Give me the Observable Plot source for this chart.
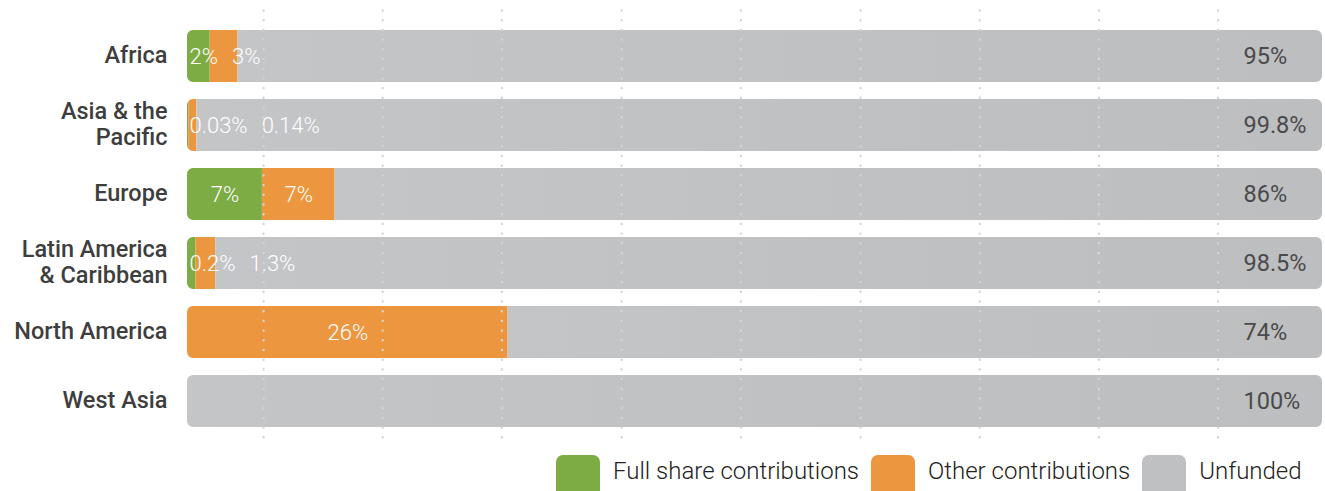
<!DOCTYPE html>
<html><head><meta charset="utf-8">
<script src="https://cdn.jsdelivr.net/npm/d3@7"></script>
<script src="https://cdn.jsdelivr.net/npm/@observablehq/plot@0.6"></script>
<style>
body{margin:0;background:#fff;font-family:Roboto,sans-serif;}
#chart{position:relative;width:1325px;height:491px;overflow:hidden;}
#chart svg{display:block;}
.legend{position:absolute;left:556px;top:455px;display:flex;align-items:flex-start;font-family:Roboto,sans-serif;font-weight:300;font-size:24px;color:#222;white-space:nowrap;}
.legend .sw{width:44px;height:44px;border-radius:7px;margin-right:13px;flex:none;}
.legend .lab{margin-right:12px;line-height:32px;}
</style></head>
<body><div id="chart"></div>
<script>
// ---- data ----
const regions = ["Africa", "Asia & the Pacific", "Europe", "Latin America & Caribbean", "North America", "West Asia"];
const regionLines = ["Africa", "Asia & the\nPacific", "Europe", "Latin America\n& Caribbean", "North America", "West Asia"];
const fullShare = [2.0, 0.13, 6.6, 0.75, 0, 0];
const otherContrib = [2.45, 0.7, 6.4, 1.75, 28.25, 0];
const unfunded = [95.55, 99.17, 87.0, 97.5, 71.75, 100];
const fullLabels = ["2%", "0.03%", "7%", "0.2%", "", ""];
const otherLabels = ["3%", "0.14%", "7%", "1.3%", "26%", ""];
const unfundedLabels = ["95%", "99.8%", "86%", "98.5%", "74%", "100%"];
const seriesNames = ["Full share contributions", "Other contributions", "Unfunded"];
const seriesColors = ["#7dac45", "#ec973f", "url(#grayGrad)"];
const legendColors = ["#7dac45", "#ec973f", "#bfc0c2"];
const gridTicks = [6.7, 17.2, 27.7, 38.25, 48.75, 59.3, 69.8, 80.3, 90.8];

// ---- layout ----
const W = 1325, H = 447, mL = 187, mR = 3;
const xpx = d3.scaleLinear([0, 100], [mL, W - mR]);

const long = [];
regions.forEach((r, i) => {
  [fullShare[i], otherContrib[i], unfunded[i]].forEach((v, k) => long.push({region: r, series: seriesNames[k], value: v}));
});
const totals = regions.map((r, i) => ({region: r, total: fullShare[i] + otherContrib[i] + unfunded[i]}));

// inside labels: centred in segment, pushed right to avoid overlaps
const ctx = document.createElement("canvas").getContext("2d");
ctx.font = "300 22px Roboto";
const inLabels = [];
regions.forEach((r, i) => {
  let prevRight = xpx(0) - 12;
  let start = 0;
  [[fullShare[i], fullLabels[i]], [otherContrib[i], otherLabels[i]]].forEach(([v, t]) => {
    const a = start, b = start + v; start = b;
    if (!t) return;
    const w = ctx.measureText(t).width;
    let left = (xpx(a) + xpx(b)) / 2 - w / 2;
    left = Math.max(left, prevRight + 14);
    prevRight = left + w;
    inLabels.push({region: r, text: t, x: xpx.invert(left)});
  });
});

const plot = Plot.plot({
  width: W, height: H,
  marginLeft: mL, marginRight: mR, marginTop: 10.5, marginBottom: 1.5,
  x: {domain: [0, 100], axis: null},
  y: {domain: regions, padding: 0.25, axis: null},
  color: {domain: seriesNames, range: seriesColors},
  style: {fontFamily: "Roboto, sans-serif", background: "white"},
  marks: [
    Plot.barX(totals, {x: "total", y: "region", rx: 6, fill: "none"}),
    Plot.barX(long, {x: "value", y: "region", fill: "series"}),
    Plot.text(regions, {y: d => d, text: (d, i) => regionLines[i], frameAnchor: "left", textAnchor: "end", dx: -20, dy: -2, fontSize: 23.5, fontWeight: 500, fill: "#3e3e3e", lineHeight: 1.1}),
    Plot.text(inLabels, {x: "x", y: "region", text: "text", textAnchor: "start", fill: "white", fontSize: 22, fontWeight: 300}),
    Plot.text(regions, {x: () => 100, y: d => d, text: (d, i) => unfundedLabels[i], textAnchor: "start", dx: -79, dy: 0, fill: "#4a4a4a", fontSize: 23.5}),
    Plot.ruleX(gridTicks, {stroke: "#d4d4d4", strokeWidth: 2.4, strokeDasharray: "0,9.7", strokeLinecap: "round"})
  ]
});

// gradient + rounded clip for the bars
const ns = "http://www.w3.org/2000/svg";
const defs = document.createElementNS(ns, "defs");
const grad = document.createElementNS(ns, "linearGradient");
grad.setAttribute("id", "grayGrad");
[["0%", "#c4c5c7"], ["100%", "#bdbec0"]].forEach(([o, c]) => {
  const s = document.createElementNS(ns, "stop");
  s.setAttribute("offset", o); s.setAttribute("stop-color", c);
  grad.appendChild(s);
});
defs.appendChild(grad);
const clip = document.createElementNS(ns, "clipPath");
clip.setAttribute("id", "barClip");
const barGroups = plot.querySelectorAll('g[aria-label="bar"]');
const clipG = barGroups[0], segG = barGroups[1];
if (clipG && segG) {
  const tr = clipG.getAttribute("transform");
  Array.from(clipG.querySelectorAll("rect")).forEach(rc => {
    if (tr) rc.setAttribute("transform", tr);
    rc.setAttribute("rx", 6); rc.setAttribute("ry", 6);
    clip.appendChild(rc);
  });
  clipG.remove();
  segG.setAttribute("clip-path", "url(#barClip)");
}
defs.appendChild(clip);
plot.insertBefore(defs, plot.firstChild);

const chart = document.getElementById("chart");
chart.appendChild(plot);

const legend = document.createElement("div");
legend.className = "legend";
seriesNames.forEach((n, i) => {
  const sw = document.createElement("div");
  sw.className = "sw"; sw.style.background = legendColors[i];
  const lab = document.createElement("div");
  lab.className = "lab"; lab.textContent = n;
  legend.appendChild(sw); legend.appendChild(lab);
});
chart.appendChild(legend);
</script>
</body></html>
